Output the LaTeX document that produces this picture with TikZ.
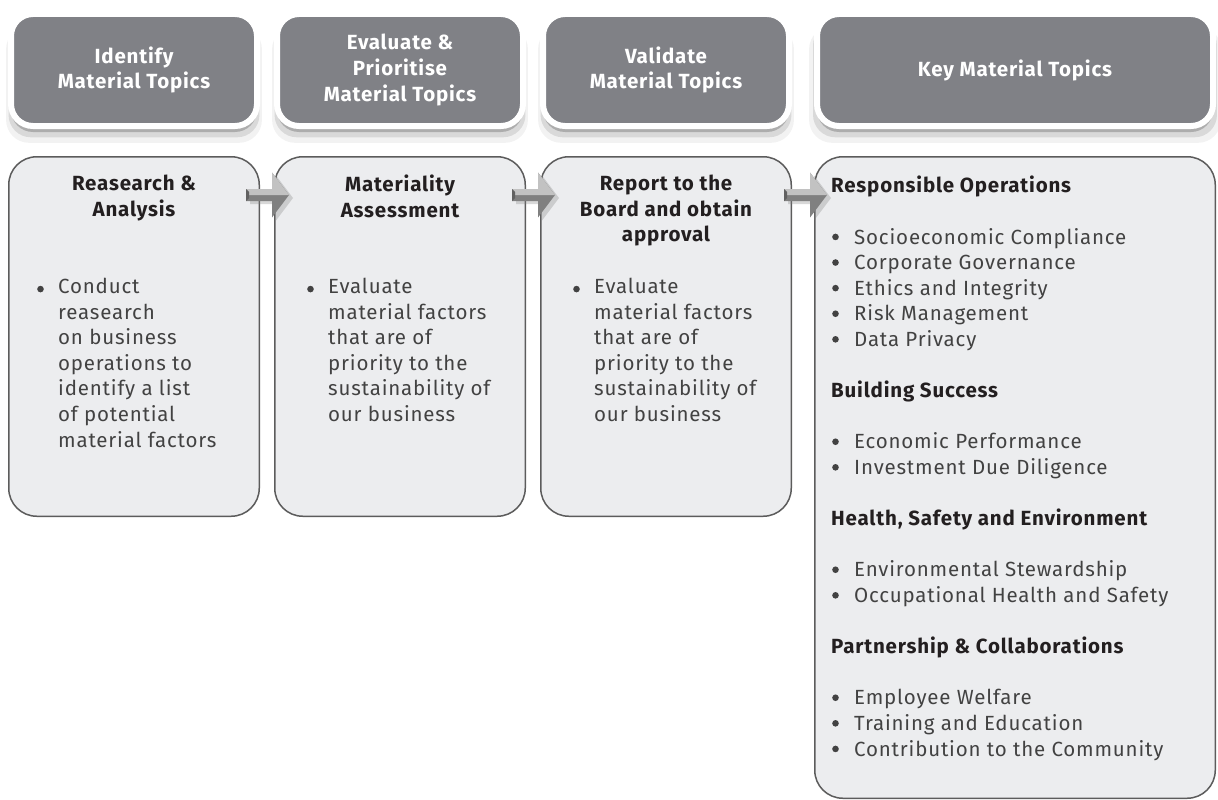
\documentclass[tikz,border=0pt]{standalone}
\usepackage{fontspec}
\usepackage{graphicx}
\setmainfont{Fira Sans}[LetterSpace=4]
\usetikzlibrary{positioning,calc,shadows}

\definecolor{headGray}{RGB}{128,129,134}
\definecolor{panelFill}{RGB}{236,237,239}
\definecolor{panelLine}{RGB}{92,92,92}
\definecolor{bodyInk}{RGB}{66,66,66}
\definecolor{titleInk}{RGB}{35,31,32}

\newcommand{\blankRow}{\\[25.6pt]}
\newcommand{\bigDot}{\raisebox{3.8pt}{\tikz\fill[bodyInk] (0,0) circle (3.3pt);}}
\newcommand{\bulletItem}{\makebox[23pt][l]{\hspace{1pt}\bigDot}}
\newcommand{\lineStrut}{\rule{0pt}{18pt}}
% 3d step arrow ending at a named tip coordinate
\newcommand{\stepArrow}[1]{%
    \begin{scope}[shift={(#1)}]
        \fill[black!50, drop shadow={shadow xshift=4pt, shadow yshift=-3pt, opacity=.3}]
            (-43,-6) -- (-17,-6) -- (-17,-22.5) -- (0,0) -- (-17,22.5) -- (-17,6) -- (-43,6) -- cycle;
        \fill[black!24] (-43,-6) -- (-17,-6) -- (-17,-22.5) -- (0,0) -- (-43,0) -- cycle;
        \fill[black!62] (-43,-6) -- (-40,-3) -- (-40,3) -- (-43,6) -- cycle;
    \end{scope}}

\begin{document}
\begin{tikzpicture}[
        x=1pt, y=-1pt,
        node distance=27pt and 14pt,
        softShadow/.style={drop shadow={shadow xshift=0pt, shadow yshift=-6pt, opacity=.20, fill=black},
                           drop shadow={shadow xshift=0pt, shadow yshift=-10pt, opacity=.10, fill=black, shadow scale=1.02},
                           drop shadow={shadow xshift=0pt, shadow yshift=-14pt, opacity=.05, fill=black, shadow scale=1.04}},
        headNode/.style={rectangle, rounded corners=22pt, draw=white, line width=6pt, fill=headGray,
        minimum width=246pt, minimum height=112pt, inner sep=0pt, align=center, text=white,
        font=\bfseries\fontsize{20.5}{25.6}\selectfont, softShadow},
        panelNode/.style={rectangle, rounded corners=28pt, draw=panelLine, line width=1.5pt, fill=panelFill,
        minimum width=250.5pt, minimum height=359.5pt, inner sep=0pt},
        titleNode/.style={anchor=north, align=center, inner sep=0pt, text=titleInk,
        font=\bfseries\fontsize{20.5}{25.6}\selectfont, execute at begin node=\lineStrut},
        listNode/.style={anchor=north west, align=left, inner sep=0pt, text=bodyInk,
        font=\fontsize{20.5}{25.6}\selectfont, execute at begin node=\lineStrut},
    ]
    \fill[white] (0,0) rectangle (1218,800);
    \useasboundingbox (0,0) rectangle (1218,800);

    % top row
    \node[headNode]                                      (hdrIdentify) at (134,70) {Identify\\Material Topics};
    \node[headNode, right=14pt of hdrIdentify]           (hdrEvaluate) {Evaluate \&\\Prioritise\\Material Topics};
    \node[headNode, right=14pt of hdrEvaluate]           (hdrValidate) {Validate\\Material Topics};
    \node[headNode, right=22pt of hdrValidate, minimum width=396pt] (hdrKey) {Key Material Topics};

    % panels
    \node[panelNode, below=of hdrIdentify] (panResearch) {};
    \node[panelNode, below=of hdrEvaluate] (panAssess)   {};
    \node[panelNode, below=of hdrValidate] (panReport)   {};
    \node[panelNode, below=of hdrKey, minimum width=400.5pt, minimum height=641.5pt] (panKey) {};

    \node[titleNode] (ttlResearch) at ($(panResearch.north)+(0,19)$) {Reasearch \&\\Analysis};
    \node[titleNode] (ttlAssess)   at ($(panAssess.north)+(0,19)$)   {Materiality\\Assessment};
    \node[titleNode] (ttlReport)   at ($(panReport.north)+(0,19)$)   {Report to the\\Board and obtain\\approval};

    \node[listNode] (bulResearch) at ($(panResearch.north west)+(29,122)$) {\bigDot};
    \node[listNode] (lstResearch) at ($(panResearch.north west)+(50,122)$)
        {Conduct\\reasearch\\on business\\operations to\\identify a list\\of potential\\material factors};
    \node[listNode] (bulAssess) at ($(panAssess.north west)+(33,122)$) {\bigDot};
    \node[listNode] (lstAssess) at ($(panAssess.north west)+(54,122)$)
        {Evaluate\\material factors\\that are of\\priority to the\\sustainability of\\our business};
    \node[listNode] (bulReport) at ($(panReport.north west)+(33,122)$) {\bigDot};
    \node[listNode] (lstReport) at ($(panReport.north west)+(54,122)$)
        {Evaluate\\material factors\\that are of\\priority to the\\sustainability of\\our business};

    \node[listNode] (lstKey) at ($(panKey.north west)+(17,20)$)
        {{\bfseries\color{titleInk}Responsible Operations}\blankRow
         \bulletItem Socioeconomic Compliance\\
         \bulletItem Corporate Governance\\
         \bulletItem Ethics and Integrity\\
         \bulletItem Risk Management\\
         \bulletItem Data Privacy\blankRow
         {\bfseries\color{titleInk}Building Success}\blankRow
         \bulletItem Economic Performance\\
         \bulletItem Investment Due Diligence\blankRow
         {\bfseries\color{titleInk}Health, Safety and Environment}\blankRow
         \bulletItem Environmental Stewardship\\
         \bulletItem Occupational Health and Safety\blankRow
         {\bfseries\color{titleInk}Partnership \& Collaborations}\blankRow
         \bulletItem Employee Welfare\\
         \bulletItem Training and Education\\
         \bulletItem Contribution to the Community};

    % step arrows
    \coordinate (tipAssess) at ($(panAssess.north west)+(15,39)$);
    \coordinate (tipReport) at ($(panReport.north west)+(15,39)$);
    \coordinate (tipKey)    at ($(panKey.north west)+(13,39)$);
    \stepArrow{tipAssess}
    \stepArrow{tipReport}
    \stepArrow{tipKey}
\end{tikzpicture}
\end{document}
